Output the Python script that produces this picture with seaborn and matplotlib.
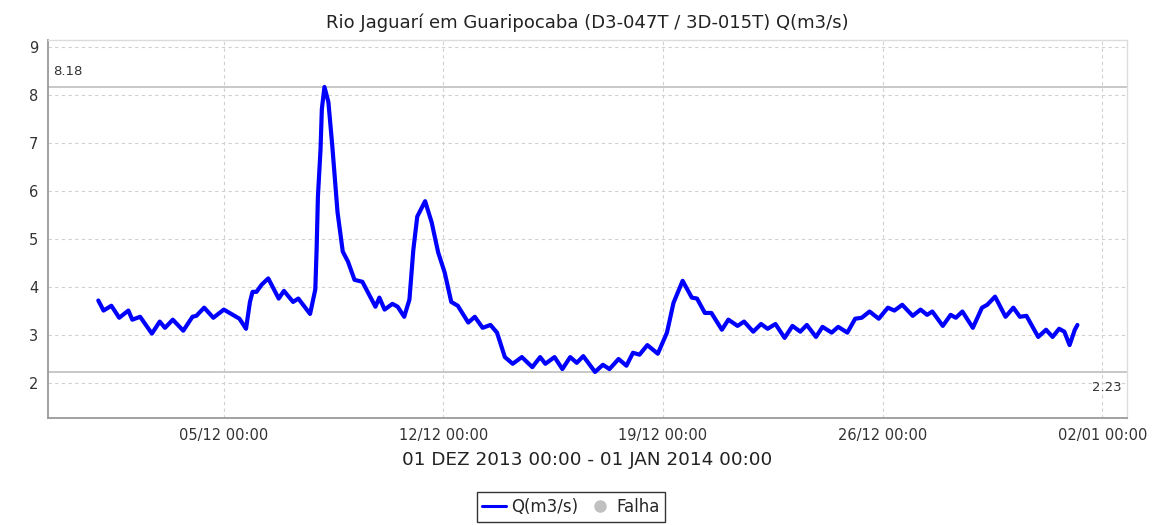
import pandas as pd
import seaborn as sns
import matplotlib.pyplot as plt
import matplotlib.dates as mdates
from matplotlib.lines import Line2D

# leituras aproximadas da vazão (m3/s)
times = [
    "2013-12-01 00:00", "2013-12-01 04:00", "2013-12-01 10:00", "2013-12-01 16:00", "2013-12-01 23:00",
    "2013-12-02 02:00", "2013-12-02 08:00", "2013-12-02 17:00", "2013-12-02 23:00",
    "2013-12-03 03:00", "2013-12-03 09:00", "2013-12-03 17:00",
    "2013-12-04 00:00", "2013-12-04 03:00", "2013-12-04 09:00", "2013-12-04 16:00",
    "2013-12-05 00:00", "2013-12-05 07:00", "2013-12-05 12:00", "2013-12-05 17:00", "2013-12-05 20:00", "2013-12-05 22:00",
    "2013-12-06 01:00", "2013-12-06 05:00", "2013-12-06 10:00", "2013-12-06 18:00", "2013-12-06 22:00",
    "2013-12-07 05:00", "2013-12-07 09:00", "2013-12-07 18:00", "2013-12-07 22:00", "2013-12-07 23:00",
    "2013-12-08 00:00", "2013-12-08 02:00", "2013-12-08 03:00", "2013-12-08 05:00", "2013-12-08 08:00",
    "2013-12-08 11:00", "2013-12-08 13:00", "2013-12-08 15:00", "2013-12-08 19:00", "2013-12-08 23:00",
    "2013-12-09 04:00", "2013-12-09 10:00", "2013-12-09 14:00", "2013-12-09 20:00", "2013-12-09 23:00",
    "2013-12-10 03:00", "2013-12-10 09:00", "2013-12-10 13:00", "2013-12-10 18:00", "2013-12-10 22:00",
    "2013-12-11 01:00", "2013-12-11 04:00", "2013-12-11 10:00", "2013-12-11 15:00", "2013-12-11 20:00",
    "2013-12-12 01:00", "2013-12-12 06:00", "2013-12-12 11:00", "2013-12-12 19:00",
    "2013-12-13 00:00", "2013-12-13 06:00", "2013-12-13 12:00", "2013-12-13 17:00", "2013-12-13 23:00",
    "2013-12-14 05:00", "2013-12-14 12:00", "2013-12-14 20:00",
    "2013-12-15 02:00", "2013-12-15 06:00", "2013-12-15 13:00", "2013-12-15 19:00",
    "2013-12-16 01:00", "2013-12-16 06:00", "2013-12-16 11:00", "2013-12-16 20:00",
    "2013-12-17 02:00", "2013-12-17 07:00", "2013-12-17 14:00", "2013-12-17 20:00",
    "2013-12-18 01:00", "2013-12-18 06:00", "2013-12-18 12:00", "2013-12-18 20:00",
    "2013-12-19 03:00", "2013-12-19 08:00", "2013-12-19 15:00", "2013-12-19 22:00",
    "2013-12-20 02:00", "2013-12-20 08:00", "2013-12-20 13:00", "2013-12-20 21:00",
    "2013-12-21 02:00", "2013-12-21 09:00", "2013-12-21 14:00", "2013-12-21 21:00",
    "2013-12-22 03:00", "2013-12-22 08:00", "2013-12-22 14:00", "2013-12-22 21:00",
    "2013-12-23 03:00", "2013-12-23 09:00", "2013-12-23 14:00", "2013-12-23 21:00",
    "2013-12-24 02:00", "2013-12-24 09:00", "2013-12-24 14:00", "2013-12-24 21:00",
    "2013-12-25 03:00", "2013-12-25 08:00", "2013-12-25 14:00", "2013-12-25 21:00",
    "2013-12-26 04:00", "2013-12-26 09:00", "2013-12-26 15:00", "2013-12-26 23:00",
    "2013-12-27 05:00", "2013-12-27 10:00", "2013-12-27 14:00", "2013-12-27 22:00",
    "2013-12-28 04:00", "2013-12-28 08:00", "2013-12-28 13:00", "2013-12-28 21:00",
    "2013-12-29 04:00", "2013-12-29 08:00", "2013-12-29 14:00", "2013-12-29 22:00",
    "2013-12-30 04:00", "2013-12-30 09:00", "2013-12-30 14:00", "2013-12-30 23:00",
    "2013-12-31 05:00", "2013-12-31 10:00", "2013-12-31 15:00", "2013-12-31 19:00", "2013-12-31 23:00",
    "2014-01-01 03:00", "2014-01-01 05:00",
]
flow = [
    3.72, 3.51, 3.61, 3.36, 3.51,
    3.32, 3.38, 3.03, 3.28,
    3.15, 3.32, 3.09,
    3.38, 3.40, 3.57, 3.36,
    3.53, 3.42, 3.34, 3.13, 3.69, 3.90,
    3.90, 4.05, 4.18, 3.76, 3.92,
    3.69, 3.76, 3.44, 3.95, 4.78,
    5.89, 6.87, 7.71, 8.17, 7.86,
    6.94, 6.25, 5.56, 4.74, 4.53,
    4.15, 4.11, 3.90, 3.59, 3.78,
    3.53, 3.65, 3.59, 3.38, 3.74,
    4.78, 5.47, 5.79, 5.35, 4.72,
    4.30, 3.69, 3.61, 3.26,
    3.38, 3.15, 3.21, 3.05, 2.54,
    2.40, 2.54, 2.33,
    2.54, 2.40, 2.54, 2.29,
    2.54, 2.42, 2.56, 2.23,
    2.38, 2.29, 2.50, 2.36,
    2.63, 2.59, 2.79, 2.61,
    3.05, 3.67, 4.13, 3.78,
    3.76, 3.46, 3.46, 3.11,
    3.32, 3.19, 3.28, 3.07,
    3.23, 3.13, 3.23, 2.94,
    3.19, 3.07, 3.21, 2.96,
    3.17, 3.05, 3.17, 3.05,
    3.34, 3.36, 3.49, 3.34,
    3.57, 3.51, 3.63, 3.40,
    3.53, 3.42, 3.49, 3.19,
    3.42, 3.36, 3.49, 3.15,
    3.57, 3.63, 3.80, 3.38,
    3.57, 3.38, 3.40, 2.96,
    3.11, 2.96, 3.13, 3.07, 2.79,
    3.11, 3.21,
]
max_label = "8.18"
min_label = "2.23"
max_value = 8.18
min_value = 2.23
tick_dates = ["2013-12-05", "2013-12-12", "2013-12-19", "2013-12-26", "2014-01-02"]
y_ticks = [2, 3, 4, 5, 6, 7, 8, 9]

df = pd.DataFrame({"data": pd.to_datetime(times), "vazao": flow})

sns.set_style("white")
plt.rcParams["font.family"] = ["DejaVu Sans"]

fig = plt.figure(figsize=(11.56, 5.25), dpi=100)
ax = fig.add_axes([0.0415, 0.2038, 0.9335, 0.72])

# linhas de máximo e mínimo
ax.axhline(max_value, color="#c4c4c4", lw=1.3, zorder=1)
ax.axhline(min_value, color="#c4c4c4", lw=1.3, zorder=1)

sns.lineplot(data=df, x="data", y="vazao", ax=ax, color="#0000ff", lw=3.0, zorder=3,
             solid_joinstyle="round", solid_capstyle="round")

ax.set_xlim(pd.Timestamp("2013-11-29 09:30"), pd.Timestamp("2014-01-02 19:00"))
ax.set_ylim(1.27, 9.15)
ax.set_xticks(pd.to_datetime(tick_dates))
ax.xaxis.set_major_formatter(mdates.DateFormatter("%d/%m %H:%M"))
ax.set_yticks(y_ticks)

ax.grid(True, color="#d0d0d0", ls=(0, (3, 3)), lw=0.8)
ax.set_axisbelow(True)
for side in ["left", "bottom"]:
    ax.spines[side].set_color("#9a9a9a")
    ax.spines[side].set_linewidth(1.3)
for side in ["top", "right"]:
    ax.spines[side].set_color("#dcdcdc")
    ax.spines[side].set_linewidth(1.0)

ax.tick_params(axis="both", direction="out", length=4, width=0.8, color="#9a9a9a",
               labelsize=10.5, labelcolor="#333333", pad=3)

ax.text(0.005, max_value + 0.18, max_label, transform=ax.get_yaxis_transform(),
        fontsize=9.5, color="#333333", va="bottom", ha="left")
ax.text(0.995, min_value - 0.18, min_label, transform=ax.get_yaxis_transform(),
        fontsize=9.5, color="#333333", va="top", ha="right")

ax.set_xlabel("01 DEZ 2013 00:00 - 01 JAN 2014 00:00", fontsize=13.2, color="#222222", labelpad=6)
ax.set_ylabel("")
ax.set_title("Rio Jaguarí em Guaripocaba (D3-047T / 3D-015T) Q(m3/s)", fontsize=13, color="#222222", pad=9)

handles = [
    Line2D([], [], color="#0000ff", lw=2.2),
    Line2D([], [], color="#c0c0c0", marker="o", ls="", ms=8),
]
leg = fig.legend(handles, ["Q(m3/s)", "Falha"], loc="lower center", bbox_to_anchor=(0.494, -0.01),
                 ncol=2, frameon=True, fancybox=False, fontsize=12, handlelength=1.4,
                 handletextpad=0.3, columnspacing=0.6, borderpad=0.35)
leg.get_frame().set_edgecolor("black")
leg.get_frame().set_linewidth(1.0)

fig.savefig("out.png", dpi=100)
